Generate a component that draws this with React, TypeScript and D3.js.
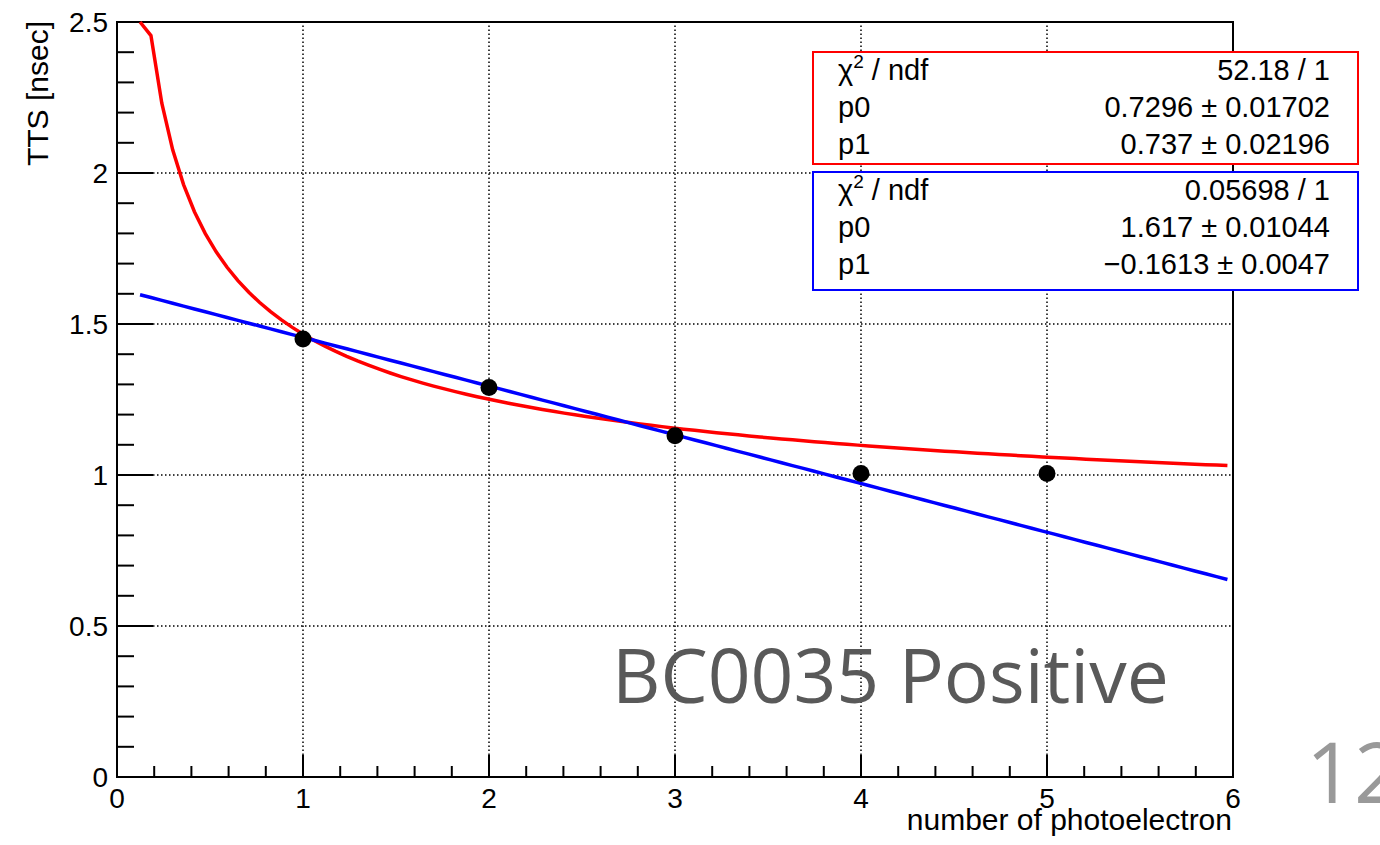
import React from 'react';
import * as d3 from 'd3';

// 1- measured points: TTS vs number of photoelectrons
const nPhotoelectron = [1, 2, 3, 4, 5];
const ttsValues = [1.45, 1.29, 1.13, 1.005, 1.005];

// 2- fit parameters (as printed in the stat boxes)
const redParams = [0.7296, 0.737]; // p0 + p1 / sqrt(x)
const blueParams = [1.617, -0.1613]; // p0 + p1 * x
const fitRange = [0.124, 5.97];

// 3- stat box rows
const redStats = [
  ['chi2', '52.18 / 1'],
  ['p0', '0.7296 \u00b1 0.01702'],
  ['p1', '0.737 \u00b1 0.02196'],
];
const blueStats = [
  ['chi2', '0.05698 / 1'],
  ['p0', '1.617 \u00b1 0.01044'],
  ['p1', '\u22120.1613 \u00b1 0.0047'],
];

// 4- axis ticks
const xMajor = [0, 1, 2, 3, 4, 5, 6];
const xLabels = ['0', '1', '2', '3', '4', '5', '6'];
const yMajor = [0, 0.5, 1, 1.5, 2, 2.5];
const yLabels = ['0', '0.5', '1', '1.5', '2', '2.5'];

const W = 1380;
const H = 845;
const font = '"Liberation Sans", Arial, Helvetica, sans-serif';

export default function App() {
  const left = 117;
  const right = 1233;
  const top = 22;
  const bottom = 777;

  const x = d3.scaleLinear().domain([0, 6]).range([left, right]);
  const y = d3.scaleLinear().domain([0, 2.5]).range([bottom, top]);

  const xMinor = d3.range(0, 6.0001, 0.2).filter((v) => Math.abs(v - Math.round(v)) > 1e-6);
  const yMinor = d3.range(0, 2.5001, 0.1).filter((v) => Math.abs(v * 2 - Math.round(v * 2)) > 1e-6);

  // TF1-like sampling, 100 steps; values above the frame are clamped like ROOT does
  const samples = d3.range(101).map((i) => fitRange[0] + (i * (fitRange[1] - fitRange[0])) / 100);
  const redPath = d3
    .line<number>()
    .x((d) => x(d))
    .y((d) => y(Math.min(2.5, redParams[0] + redParams[1] / Math.sqrt(d))))(samples);
  const bluePath = d3
    .line<number>()
    .x((d) => x(d))
    .y((d) => y(Math.min(2.5, blueParams[0] + blueParams[1] * d)))(samples);

  const majorX = 22;
  const minorX = 11;
  const majorY = 36;
  const minorY = 17;

  const statBox = (rows: string[][], y0: number, h: number, color: string) => (
    <g>
      <rect x={813} y={y0} width={545} height={h} fill="white" stroke={color} strokeWidth={2} />
      {rows.map((r, i) => (
        <g key={i} fontFamily={font} fontSize={29} fill="#000">
          <text x={838} y={y0 + 28 + i * 37}>
            {r[0] === 'chi2' ? (
              <>
                {'\u03c7'}
                <tspan fontSize={19} dy={-12}>2</tspan>
                <tspan dy={12}>{' / ndf'}</tspan>
              </>
            ) : (
              r[0]
            )}
          </text>
          <text x={1330} y={y0 + 28 + i * 37} textAnchor="end">
            {r[1]}
          </text>
        </g>
      ))}
    </g>
  );

  return (
    <svg width={W} height={H} style={{ position: 'fixed', left: 0, top: 0, background: 'white' }}>
      <rect x={0} y={0} width={W} height={H} fill="white" />

      {/* grid */}
      {xMajor.slice(1, -1).map((v) => (
        <line key={'gx' + v} x1={x(v)} x2={x(v)} y1={bottom - majorX} y2={top} stroke="#000" strokeWidth={1.5} strokeDasharray="1.5 2.5" />
      ))}
      {yMajor.slice(1, -1).map((v) => (
        <line key={'gy' + v} x1={left + majorY} x2={right} y1={y(v)} y2={y(v)} stroke="#000" strokeWidth={1.5} strokeDasharray="1.5 2.5" />
      ))}

      {/* frame */}
      <rect x={left} y={top} width={right - left} height={bottom - top} fill="none" stroke="#000" strokeWidth={2} />

      {/* x ticks */}
      {xMajor.map((v) => (
        <line key={'xt' + v} x1={x(v)} x2={x(v)} y1={bottom} y2={bottom - majorX} stroke="#000" strokeWidth={2} />
      ))}
      {xMinor.map((v) => (
        <line key={'xm' + v} x1={x(v)} x2={x(v)} y1={bottom} y2={bottom - minorX} stroke="#000" strokeWidth={2} />
      ))}
      {/* y ticks */}
      {yMajor.map((v) => (
        <line key={'yt' + v} x1={left} x2={left + majorY} y1={y(v)} y2={y(v)} stroke="#000" strokeWidth={2} />
      ))}
      {yMinor.map((v) => (
        <line key={'ym' + v} x1={left} x2={left + minorY} y1={y(v)} y2={y(v)} stroke="#000" strokeWidth={2} />
      ))}

      {/* tick labels */}
      <g fontFamily={font} fontSize={28} fill="#000">
        {xMajor.map((v, i) => (
          <text key={'xl' + v} x={x(v)} y={808} textAnchor="middle">
            {xLabels[i]}
          </text>
        ))}
        {yMajor.map((v, i) => (
          <text key={'yl' + v} x={108} y={y(v) + 10} textAnchor="end">
            {yLabels[i]}
          </text>
        ))}
      </g>

      {/* axis titles */}
      <text x={1232} y={830} textAnchor="end" fontFamily={font} fontSize={30}>
        number of photoelectron
      </text>
      <text transform="translate(48,21) rotate(-90)" textAnchor="end" fontFamily={font} fontSize={30}>
        TTS [nsec]
      </text>

      {/* fits */}
      <g fill="none">
        <path d={redPath || ''} stroke="#ff0000" strokeWidth={3.5} />
        <path d={bluePath || ''} stroke="#0000ff" strokeWidth={3.5} />
      </g>

      {/* points */}
      {nPhotoelectron.map((v, i) => (
        <circle key={'p' + v} cx={x(v)} cy={y(ttsValues[i])} r={8.5} fill="#000" />
      ))}

      {/* stat boxes */}
      {statBox(redStats, 52, 112, '#ff0000')}
      {statBox(blueStats, 172, 118, '#0000ff')}

      {/* overlay labels */}
      <text x={612} y={703} fontFamily='"Open Sans", "Noto Sans", sans-serif' fontSize={75} fill="#595959">
        BC0035 Positive
      </text>
      <text x={1306} y={803} fontFamily='"Open Sans", "Noto Sans", sans-serif' fontSize={84} fill="#999999">
        12
      </text>
    </svg>
  );
}
